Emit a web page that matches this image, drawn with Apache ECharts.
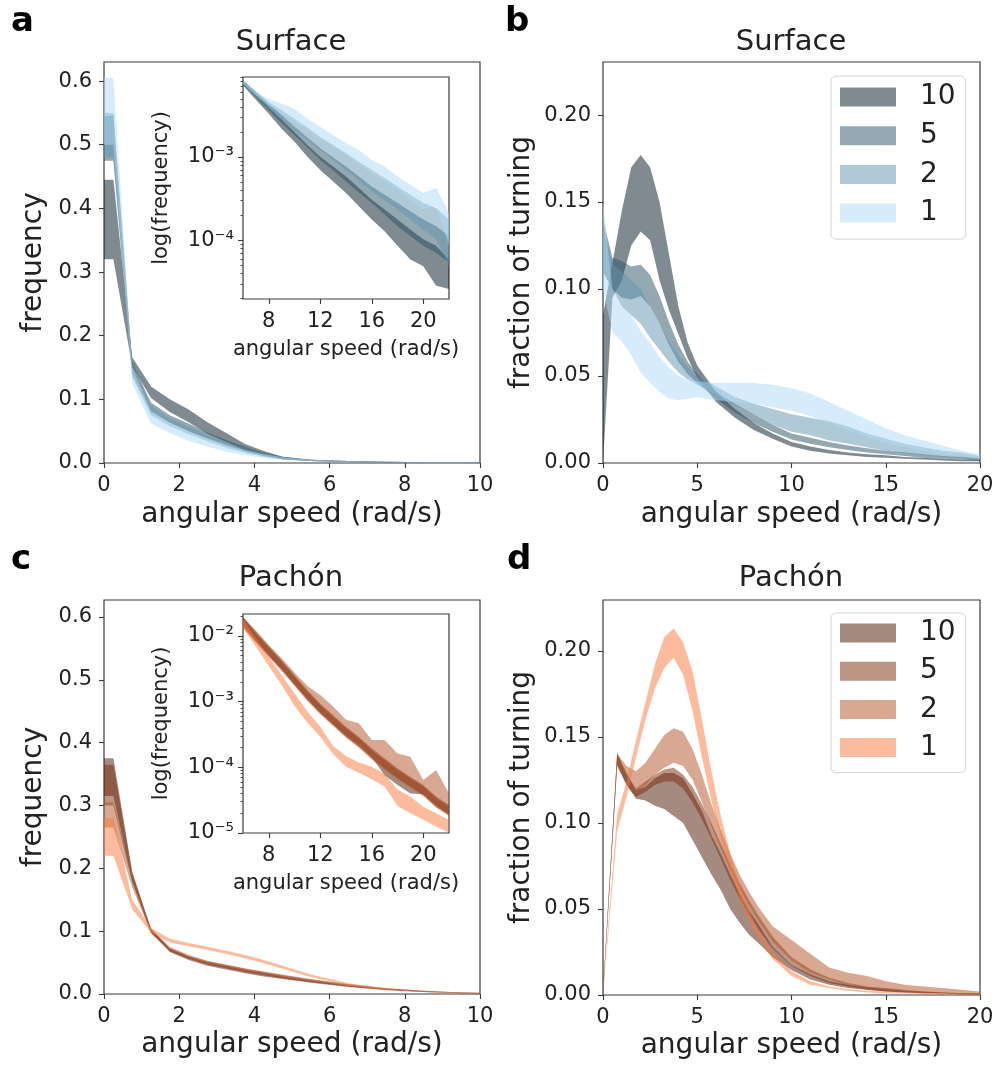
<!DOCTYPE html>
<html>
<head>
<meta charset="utf-8">
<script src="https://cdn.jsdelivr.net/npm/echarts@6/dist/echarts.min.js"></script>
<style>
  html, body { margin: 0; padding: 0; background: #fff; }
  #main { width: 992px; height: 1071px; }
</style>
</head>
<body>
<div id="main"></div>
<script>
// groups (legend labels) and colours
const groups = ['10', '5', '2', '1'];
const surfaceColors = ['rgba(1,23,35,0.5)', 'rgba(41,81,101,0.5)', 'rgba(97,147,173,0.5)', 'rgba(173,217,245,0.5)'];
const pachonColors = ['rgba(75,21,1,0.5)', 'rgba(121,43,11,0.5)', 'rgba(179,81,37,0.5)', 'rgba(251,119,59,0.5)'];

// tick labels
const freqTicks = [0, 0.1, 0.2, 0.3, 0.4, 0.5, 0.6];
const fracTicks = [0, 0.05, 0.1, 0.15, 0.2];
const speedTicks10 = [0, 2, 4, 6, 8, 10];
const speedTicks20 = [0, 5, 10, 15, 20];
const insetSpeedTicks = [8, 12, 16, 20];
const insetLogTicksA = [1e-4, 1e-3];
const insetLogTicksC = [1e-5, 1e-4, 1e-3, 1e-2];
const insetMinorA = [2e-5, 3e-5, 4e-5, 5e-5, 6e-5, 7e-5, 8e-5, 9e-5, 2e-4, 3e-4, 4e-4, 5e-4, 6e-4, 7e-4, 8e-4, 9e-4, 2e-3, 3e-3, 4e-3, 5e-3, 6e-3, 7e-3, 8e-3, 9e-3];
const insetMinorC = insetMinorA.concat([2e-2]);

// panel a / c : frequency vs angular speed
const speedAC = [0, 0.25, 0.75, 1.25, 1.75, 2.25, 2.75, 3.25, 3.75, 4.25, 4.75, 5.5, 6.5, 7.5, 8.5, 9.5, 10];
const a10Lo = [0.32, 0.32, 0.152, 0.102, 0.080, 0.064, 0.046, 0.033, 0.020, 0.012, 0.006, 0.003, 0.0015, 0.001, 0.0006, 0.0003, 0.0002];
const a10Hi = [0.445, 0.445, 0.166, 0.120, 0.100, 0.084, 0.064, 0.047, 0.030, 0.019, 0.010, 0.005, 0.003, 0.002, 0.0012, 0.0008, 0.0006];
const a5Lo = [0.475, 0.475, 0.140, 0.080, 0.063, 0.050, 0.038, 0.027, 0.018, 0.011, 0.006, 0.003, 0.0015, 0.001, 0.0006, 0.0004, 0.0003];
const a5Hi = [0.545, 0.545, 0.158, 0.095, 0.075, 0.062, 0.048, 0.036, 0.025, 0.016, 0.010, 0.005, 0.003, 0.002, 0.0012, 0.0008, 0.0006];
const a2Lo = [0.48, 0.48, 0.135, 0.075, 0.058, 0.045, 0.034, 0.024, 0.016, 0.010, 0.006, 0.003, 0.0015, 0.001, 0.0006, 0.0004, 0.0003];
const a2Hi = [0.55, 0.55, 0.155, 0.090, 0.070, 0.057, 0.044, 0.033, 0.023, 0.015, 0.009, 0.005, 0.003, 0.002, 0.0012, 0.0008, 0.0006];
const a1Lo = [0.50, 0.50, 0.125, 0.062, 0.047, 0.035, 0.026, 0.018, 0.012, 0.008, 0.005, 0.003, 0.0015, 0.001, 0.0006, 0.0004, 0.0003];
const a1Hi = [0.605, 0.605, 0.150, 0.082, 0.064, 0.050, 0.039, 0.029, 0.020, 0.014, 0.009, 0.005, 0.003, 0.002, 0.0015, 0.001, 0.0008];

const c10Lo = [0.315, 0.315, 0.180, 0.098, 0.067, 0.054, 0.045, 0.039, 0.033, 0.028, 0.024, 0.018, 0.011, 0.006, 0.003, 0.001, 0.0008];
const c10Hi = [0.375, 0.375, 0.195, 0.104, 0.072, 0.059, 0.050, 0.044, 0.038, 0.033, 0.028, 0.021, 0.013, 0.008, 0.004, 0.002, 0.0015];
const c5Lo = [0.300, 0.300, 0.178, 0.097, 0.068, 0.056, 0.047, 0.041, 0.035, 0.030, 0.025, 0.019, 0.012, 0.007, 0.003, 0.0015, 0.001];
const c5Hi = [0.365, 0.365, 0.192, 0.103, 0.073, 0.061, 0.052, 0.046, 0.040, 0.035, 0.030, 0.023, 0.015, 0.009, 0.005, 0.0025, 0.002];
const c2Lo = [0.265, 0.265, 0.170, 0.097, 0.069, 0.057, 0.048, 0.042, 0.036, 0.031, 0.026, 0.020, 0.013, 0.007, 0.004, 0.0015, 0.001];
const c2Hi = [0.305, 0.305, 0.185, 0.104, 0.075, 0.062, 0.053, 0.047, 0.041, 0.036, 0.031, 0.024, 0.016, 0.009, 0.005, 0.0025, 0.002];
const c1Lo = [0.220, 0.220, 0.135, 0.098, 0.082, 0.076, 0.070, 0.064, 0.057, 0.049, 0.040, 0.027, 0.014, 0.007, 0.003, 0.001, 0.0008];
const c1Hi = [0.280, 0.280, 0.150, 0.105, 0.088, 0.081, 0.075, 0.069, 0.062, 0.054, 0.045, 0.031, 0.017, 0.009, 0.004, 0.002, 0.0015];

// panel b : fraction of turning (surface)
const speedB = [0, 0.5, 1, 1.5, 2, 2.5, 3, 3.5, 4, 4.5, 5, 6, 7, 8, 9, 10, 11, 12, 13, 14, 15, 16, 17, 18, 19, 20];
const b10Lo = [0.0, 0.095, 0.105, 0.125, 0.133, 0.128, 0.105, 0.088, 0.074, 0.060, 0.049, 0.035, 0.026, 0.019, 0.014, 0.0095, 0.007, 0.0055, 0.0045, 0.0035, 0.003, 0.0025, 0.002, 0.0015, 0.001, 0.001];
const b10Hi = [0.085, 0.115, 0.145, 0.170, 0.177, 0.170, 0.150, 0.120, 0.090, 0.069, 0.056, 0.041, 0.031, 0.023, 0.017, 0.012, 0.0095, 0.0075, 0.006, 0.005, 0.0045, 0.0035, 0.003, 0.0025, 0.002, 0.002];
const b5Lo = [0.110, 0.100, 0.095, 0.094, 0.096, 0.090, 0.080, 0.068, 0.058, 0.051, 0.046, 0.037, 0.029, 0.023, 0.018, 0.0135, 0.011, 0.009, 0.0075, 0.006, 0.005, 0.004, 0.003, 0.0025, 0.002, 0.0015];
const b5Hi = [0.140, 0.118, 0.116, 0.113, 0.114, 0.108, 0.096, 0.081, 0.068, 0.058, 0.051, 0.041, 0.034, 0.028, 0.022, 0.017, 0.0145, 0.012, 0.010, 0.0085, 0.007, 0.006, 0.005, 0.004, 0.0035, 0.003];
const b2Lo = [0.110, 0.100, 0.090, 0.085, 0.080, 0.072, 0.065, 0.058, 0.052, 0.048, 0.045, 0.039, 0.033, 0.028, 0.022, 0.018, 0.016, 0.013, 0.011, 0.009, 0.007, 0.0055, 0.0045, 0.0035, 0.003, 0.002];
const b2Hi = [0.135, 0.115, 0.110, 0.105, 0.100, 0.090, 0.080, 0.070, 0.062, 0.055, 0.050, 0.044, 0.038, 0.034, 0.031, 0.028, 0.026, 0.024, 0.021, 0.017, 0.014, 0.011, 0.009, 0.007, 0.006, 0.004];
const b1Lo = [0.100, 0.075, 0.070, 0.062, 0.052, 0.046, 0.041, 0.037, 0.036, 0.037, 0.038, 0.036, 0.035, 0.034, 0.032, 0.030, 0.027, 0.023, 0.019, 0.015, 0.011, 0.009, 0.007, 0.005, 0.004, 0.002];
const b1Hi = [0.150, 0.100, 0.090, 0.085, 0.076, 0.069, 0.061, 0.055, 0.050, 0.048, 0.047, 0.046, 0.046, 0.046, 0.045, 0.043, 0.040, 0.035, 0.030, 0.025, 0.020, 0.016, 0.013, 0.010, 0.007, 0.005];

// panel d : fraction of turning (Pachón)
const speedD = [0, 0.75, 1.25, 1.75, 2.25, 2.75, 3.25, 3.75, 4.25, 4.75, 5.25, 5.75, 6.25, 6.75, 7.25, 7.75, 8.25, 9, 10, 11, 12, 13, 14, 15, 16, 17, 18, 19, 20];
const d10Lo = [0, 0.133, 0.122, 0.114, 0.113, 0.110, 0.108, 0.104, 0.100, 0.090, 0.080, 0.070, 0.061, 0.050, 0.042, 0.035, 0.030, 0.022, 0.0145, 0.009, 0.006, 0.004, 0.003, 0.002, 0.0015, 0.001, 0.0008, 0.0005, 0.0003];
const d10Hi = [0.002, 0.140, 0.129, 0.119, 0.121, 0.126, 0.129, 0.129, 0.126, 0.117, 0.107, 0.093, 0.082, 0.070, 0.059, 0.049, 0.041, 0.028, 0.0175, 0.012, 0.008, 0.006, 0.0045, 0.0035, 0.0025, 0.002, 0.0015, 0.001, 0.0008];
const d5Lo = [0, 0.134, 0.122, 0.115, 0.118, 0.122, 0.124, 0.124, 0.120, 0.112, 0.102, 0.091, 0.079, 0.067, 0.056, 0.046, 0.038, 0.027, 0.017, 0.011, 0.007, 0.005, 0.003, 0.002, 0.0015, 0.001, 0.0008, 0.0005, 0.0003];
const d5Hi = [0.002, 0.141, 0.128, 0.120, 0.124, 0.128, 0.131, 0.132, 0.128, 0.121, 0.111, 0.100, 0.088, 0.076, 0.065, 0.055, 0.046, 0.034, 0.022, 0.015, 0.010, 0.007, 0.005, 0.004, 0.003, 0.002, 0.0015, 0.0012, 0.001];
const d2Lo = [0, 0.134, 0.127, 0.118, 0.122, 0.128, 0.132, 0.135, 0.133, 0.125, 0.112, 0.098, 0.085, 0.073, 0.062, 0.052, 0.043, 0.031, 0.020, 0.013, 0.009, 0.006, 0.004, 0.003, 0.002, 0.0015, 0.001, 0.0008, 0.0005];
const d2Hi = [0.002, 0.140, 0.133, 0.130, 0.135, 0.143, 0.151, 0.155, 0.153, 0.143, 0.128, 0.111, 0.096, 0.082, 0.070, 0.060, 0.051, 0.040, 0.032, 0.024, 0.016, 0.013, 0.011, 0.008, 0.006, 0.005, 0.004, 0.003, 0.002];
const d1Lo = [0, 0.095, 0.115, 0.138, 0.160, 0.178, 0.190, 0.196, 0.186, 0.165, 0.138, 0.113, 0.092, 0.073, 0.056, 0.043, 0.033, 0.021, 0.011, 0.006, 0.004, 0.0025, 0.0015, 0.001, 0.0008, 0.0006, 0.0004, 0.0003, 0.0002];
const d1Hi = [0.002, 0.105, 0.124, 0.148, 0.170, 0.192, 0.208, 0.213, 0.205, 0.188, 0.160, 0.130, 0.104, 0.082, 0.064, 0.049, 0.038, 0.025, 0.014, 0.008, 0.005, 0.0035, 0.0025, 0.002, 0.0015, 0.0012, 0.001, 0.0008, 0.0006];

// insets : log(frequency) vs angular speed
const insetSpeed = [6, 7, 8, 9, 10, 11, 12, 13, 14, 15, 16, 17, 18, 19, 20, 21, 22];
const ia10Lo = [7.19e-3, 4.86e-3, 3.31e-3, 2.19e-3, 1.52e-3, 1.01e-3, 7.0e-4, 5.08e-4, 3.69e-4, 2.56e-4, 1.78e-4, 1.29e-4, 8.6e-5, 5.9e-5, 4.9e-5, 2.86e-5, 2.61e-5];
const ia10Hi = [8.26e-3, 5.73e-3, 3.97e-3, 2.81e-3, 2.00e-3, 1.39e-3, 1.01e-3, 7.67e-4, 5.83e-4, 4.24e-4, 3.08e-4, 2.34e-4, 1.78e-4, 1.35e-4, 1.03e-4, 8.6e-5, 5.9e-5];
const ia5Lo = [7.53e-3, 5.22e-3, 3.63e-3, 2.56e-3, 1.83e-3, 1.30e-3, 9.2e-4, 6.88e-4, 5.08e-4, 3.76e-4, 2.81e-4, 2.04e-4, 1.48e-4, 1.13e-4, 8.6e-5, 7.1e-5, 5.4e-5];
const ia5Hi = [8.26e-3, 6.0e-3, 4.35e-3, 3.16e-3, 2.30e-3, 1.72e-3, 1.27e-3, 9.9e-4, 7.67e-4, 5.83e-4, 4.43e-4, 3.53e-4, 2.81e-4, 2.23e-4, 1.78e-4, 1.48e-4, 1.13e-4];
const ia2Lo = [7.53e-3, 5.32e-3, 3.79e-3, 2.81e-3, 2.10e-3, 1.59e-3, 1.21e-3, 9.2e-4, 7.0e-4, 5.22e-4, 3.86e-4, 3.02e-4, 2.34e-4, 1.78e-4, 1.35e-4, 1.03e-4, 4.9e-5];
const ia2Hi = [8.26e-3, 6.16e-3, 4.56e-3, 3.63e-3, 2.88e-3, 2.26e-3, 1.75e-3, 1.39e-3, 1.11e-3, 8.8e-4, 7.0e-4, 5.6e-4, 4.43e-4, 3.53e-4, 2.81e-4, 2.45e-4, 1.78e-4];
const ia1Lo = [7.53e-3, 5.47e-3, 4.16e-3, 3.31e-3, 2.63e-3, 2.10e-3, 1.67e-3, 1.33e-3, 1.06e-3, 8.25e-4, 6.4e-4, 5.08e-4, 4.05e-4, 3.08e-4, 2.34e-4, 2.56e-4, 8.6e-5];
const ia1Hi = [8.26e-3, 6.0e-3, 4.99e-3, 4.35e-3, 3.79e-3, 2.88e-3, 2.30e-3, 1.83e-3, 1.46e-3, 1.21e-3, 9.2e-4, 7.67e-4, 5.83e-4, 4.64e-4, 3.69e-4, 4.24e-4, 2.13e-4];

const ic10Lo = [0.0144, 0.00849, 0.00514, 0.00314, 0.00186, 0.00110, 6.9e-4, 4.57e-4, 3.03e-4, 2.19e-4, 1.42e-4, 7.6e-5, 5.4e-5, 4.0e-5, 3.9e-5, 2.6e-5, 1.95e-5];
const ic10Hi = [0.0186, 0.0110, 0.00664, 0.00407, 0.00240, 0.00142, 8.9e-4, 5.9e-4, 3.93e-4, 2.77e-4, 1.84e-4, 1.29e-4, 9.1e-5, 6.8e-5, 5.1e-5, 3.4e-5, 2.52e-5];
const ic5Lo = [0.0139, 0.00820, 0.00496, 0.00303, 0.00179, 0.00106, 6.6e-4, 4.41e-4, 2.93e-4, 2.06e-4, 1.37e-4, 9.7e-5, 6.8e-5, 5.1e-5, 3.8e-5, 2.52e-5, 1.88e-5];
const ic5Hi = [0.0197, 0.0116, 0.00705, 0.00431, 0.00255, 0.00151, 9.4e-4, 6.26e-4, 4.16e-4, 2.93e-4, 1.95e-4, 1.37e-4, 9.7e-5, 7.2e-5, 5.4e-5, 3.6e-5, 2.67e-5];
const ic2Lo = [0.0134, 0.00791, 0.00479, 0.00293, 0.00173, 0.00102, 6.41e-4, 4.26e-4, 2.83e-4, 1.99e-4, 1.32e-4, 9.3e-5, 6.6e-5, 4.9e-5, 3.66e-5, 2.43e-5, 1.82e-5];
const ic2Hi = [0.0192, 0.0121, 0.00730, 0.00457, 0.00277, 0.00173, 0.00126, 8.4e-4, 5.3e-4, 4.68e-4, 2.61e-4, 2.61e-4, 1.63e-4, 1.45e-4, 6.4e-5, 9.1e-5, 4.0e-5];
const ic1Lo = [0.0131, 0.00689, 0.00349, 0.00179, 8.6e-4, 4.79e-4, 2.93e-4, 1.60e-4, 1.02e-4, 8.3e-5, 6.6e-5, 5.1e-5, 2.58e-5, 1.99e-5, 1.61e-5, 1.25e-5, 1.02e-5];
const ic1Hi = [0.0180, 0.00921, 0.00484, 0.00255, 0.00134, 7.05e-4, 4.16e-4, 2.11e-4, 1.49e-4, 1.18e-4, 1.02e-4, 7.9e-5, 4.6e-5, 3.6e-5, 2.52e-5, 1.99e-5, 1.58e-5];

const TEXT = '#222';
const LINE = '#3a3a3a';
const FONT = 'DejaVu Sans';

// filled band between lo and hi, drawn as one polygon through the axes
function band(name, xs, lo, hi, color, axisIdx) {
  return {
    type: 'custom',
    name: name,
    xAxisIndex: axisIdx,
    yAxisIndex: axisIdx,
    clip: true,
    silent: true,
    animation: false,
    itemStyle: { color: color },
    data: xs.map((x, i) => [x, lo[i], hi[i]]),
    encode: { x: 0, y: [1, 2] },
    renderItem: function (params, api) {
      if (params.dataIndex !== 0) return;
      const pts = [];
      for (let i = 0; i < xs.length; i++) pts.push(api.coord([xs[i], hi[i]]));
      for (let i = xs.length - 1; i >= 0; i--) pts.push(api.coord([xs[i], lo[i]]));
      return { type: 'polygon', shape: { points: pts }, style: { fill: color } };
    }
  };
}

const SUP = { '-': '\u207B', '0': '\u2070', '1': '\u00B9', '2': '\u00B2', '3': '\u00B3', '4': '\u2074', '5': '\u2075', '6': '\u2076', '7': '\u2077', '8': '\u2078', '9': '\u2079' };
function powLabel(v) {
  const e = String(Math.round(Math.log10(v)));
  return '10' + e.split('').map(c => SUP[c]).join('');
}

function gridBox(left, top, width, height) {
  return {
    left: left, top: top, width: width, height: height,
    show: true, backgroundColor: '#fff', borderColor: LINE, borderWidth: 1.2,
    containLabel: false, outerBoundsMode: 'none'
  };
}

function tickStyle(ticks, len) {
  return { customValues: ticks, length: len, lineStyle: { color: LINE, width: 1.1 } };
}

function speedAxis(gridIndex, max, ticks, nameGap) {
  return {
    type: 'value', gridIndex: gridIndex, min: 0, max: max,
    axisLine: { show: false }, splitLine: { show: false },
    axisTick: tickStyle(ticks, 5),
    axisLabel: { customValues: ticks, fontSize: 21, color: TEXT, margin: 12, fontFamily: FONT },
    name: 'angular speed (rad/s)', nameLocation: 'middle', nameGap: nameGap, nameMoveOverlap: false,
    nameTextStyle: { fontSize: 28, color: TEXT, fontFamily: FONT }
  };
}

function valueY(gridIndex, max, ticks, digits, name, nameGap) {
  return {
    type: 'value', gridIndex: gridIndex, min: 0, max: max, position: 'left',
    axisLine: { show: false }, splitLine: { show: false },
    axisTick: tickStyle(ticks, 5),
    axisLabel: { customValues: ticks, fontSize: 21, color: TEXT, margin: 12, fontFamily: FONT, formatter: v => v.toFixed(digits) },
    name: name, nameLocation: 'middle', nameGap: nameGap, nameMoveOverlap: false,
    nameTextStyle: { fontSize: 28, color: TEXT, fontFamily: FONT }
  };
}

function logY(gridIndex, min, max, ticks) {
  return {
    type: 'log', logBase: 10, gridIndex: gridIndex, min: min, max: max, position: 'left',
    axisLine: { show: false }, splitLine: { show: false },
    axisTick: tickStyle(ticks, 5),
    axisLabel: { customValues: ticks, fontSize: 21, color: TEXT, margin: 9, fontFamily: FONT, formatter: powLabel },
    name: 'log(frequency)', nameLocation: 'middle', nameGap: 71, nameMoveOverlap: false,
    nameTextStyle: { fontSize: 21, color: TEXT, fontFamily: FONT }
  };
}

// second log axis on the same side, only for the short minor ticks
function minorLogY(gridIndex, min, max, ticks) {
  return {
    type: 'log', logBase: 10, gridIndex: gridIndex, min: min, max: max, position: 'left', offset: 0,
    axisLine: { show: false }, splitLine: { show: false },
    axisTick: { customValues: ticks, length: 2.5, lineStyle: { color: LINE, width: 0.9 } },
    axisLabel: { show: false }
  };
}

function insetX(gridIndex) {
  return {
    type: 'value', gridIndex: gridIndex, min: 6, max: 22,
    axisLine: { show: false }, splitLine: { show: false },
    axisTick: tickStyle(insetSpeedTicks, 5),
    axisLabel: { customValues: insetSpeedTicks, fontSize: 21, color: TEXT, margin: 12, fontFamily: FONT },
    name: 'angular speed (rad/s)', nameLocation: 'middle', nameGap: 40, nameMoveOverlap: false,
    nameTextStyle: { fontSize: 21, color: TEXT, fontFamily: FONT }
  };
}

const series = [];
const aLo = [a10Lo, a5Lo, a2Lo, a1Lo], aHi = [a10Hi, a5Hi, a2Hi, a1Hi];
const bLo = [b10Lo, b5Lo, b2Lo, b1Lo], bHi = [b10Hi, b5Hi, b2Hi, b1Hi];
const cLo = [c10Lo, c5Lo, c2Lo, c1Lo], cHi = [c10Hi, c5Hi, c2Hi, c1Hi];
const dLo = [d10Lo, d5Lo, d2Lo, d1Lo], dHi = [d10Hi, d5Hi, d2Hi, d1Hi];
const iaLo = [ia10Lo, ia5Lo, ia2Lo, ia1Lo], iaHi = [ia10Hi, ia5Hi, ia2Hi, ia1Hi];
const icLo = [ic10Lo, ic5Lo, ic2Lo, ic1Lo], icHi = [ic10Hi, ic5Hi, ic2Hi, ic1Hi];

groups.forEach((g, k) => {
  series.push(band('a' + g, speedAC, aLo[k], aHi[k], surfaceColors[k], 0));
  series.push(band('S' + g, speedB, bLo[k], bHi[k], surfaceColors[k], 1));
  series.push(band('c' + g, speedAC, cLo[k], cHi[k], pachonColors[k], 2));
  series.push(band('P' + g, speedD, dLo[k], dHi[k], pachonColors[k], 3));
  series.push(band('ia' + g, insetSpeed, iaLo[k], iaHi[k], surfaceColors[k], 4));
  series.push(band('ic' + g, insetSpeed, icLo[k], icHi[k], pachonColors[k], 5));
});

function legendFor(prefix, colors, top, gap, pad) {
  return {
    orient: 'vertical', left: 831, top: top,
    data: groups.map((g, k) => ({ name: prefix + g, itemStyle: { color: colors[k] } })),
    icon: 'rect', itemWidth: 56, itemHeight: 19, itemGap: gap,
    padding: pad, selectedMode: false,
    backgroundColor: 'rgba(255,255,255,0.8)', borderColor: '#d4d4d4', borderWidth: 1, borderRadius: 5,
    formatter: n => n.slice(1),
    textStyle: { fontSize: 28, color: TEXT, fontFamily: FONT, padding: [0, 0, 0, 19] }
  };
}

function label(text, x, y, size, bold) {
  return {
    type: 'text', x: x, y: y, silent: true,
    style: { text: text, fontSize: size, fontWeight: bold ? 'bold' : 'normal', fontFamily: FONT, fill: bold ? '#000' : TEXT, align: bold ? 'left' : 'center', verticalAlign: 'middle' }
  };
}

const chart = echarts.init(document.getElementById('main'), null, { renderer: 'canvas' });
chart.setOption({
  animation: false,
  backgroundColor: '#fff',
  textStyle: { fontFamily: FONT },
  grid: [
    gridBox(104, 62, 376, 401),
    gridBox(603, 62, 377, 401),
    gridBox(104, 600, 376, 394),
    gridBox(603, 600, 377, 395),
    gridBox(243, 77, 206, 222),
    gridBox(243, 614, 206, 219)
  ],
  xAxis: [
    speedAxis(0, 10, speedTicks10, 38),
    speedAxis(1, 20, speedTicks20, 38),
    speedAxis(2, 10, speedTicks10, 37),
    speedAxis(3, 20, speedTicks20, 37),
    insetX(4),
    insetX(5)
  ],
  yAxis: [
    valueY(0, 0.63, freqTicks, 1, 'frequency', 56),
    valueY(1, 0.2305, fracTicks, 2, 'fraction of turning', 67),
    valueY(2, 0.627, freqTicks, 1, 'frequency', 56),
    valueY(3, 0.2295, fracTicks, 2, 'fraction of turning', 67),
    logY(4, 1.98e-5, 9.12e-3, insetLogTicksA),
    logY(5, 1e-5, 0.0216, insetLogTicksC),
    minorLogY(4, 1.98e-5, 9.12e-3, insetMinorA),
    minorLogY(5, 1e-5, 0.0216, insetMinorC)
  ],
  legend: [
    legendFor('S', surfaceColors, 76, 10.7, [7, 10, 12, 9]),
    legendFor('P', pachonColors, 613, 10.2, [6, 10, 11, 9])
  ],
  graphic: [
    label('a', 11, 22, 34, true),
    label('b', 505, 22, 34, true),
    label('c', 11, 560, 34, true),
    label('d', 507, 560, 34, true),
    label('Surface', 291, 42, 29, false),
    label('Surface', 791, 42, 29, false),
    label('Pachón', 291, 578, 29, false),
    label('Pachón', 791, 578, 29, false)
  ],
  series: series
});
</script>
</body>
</html>
